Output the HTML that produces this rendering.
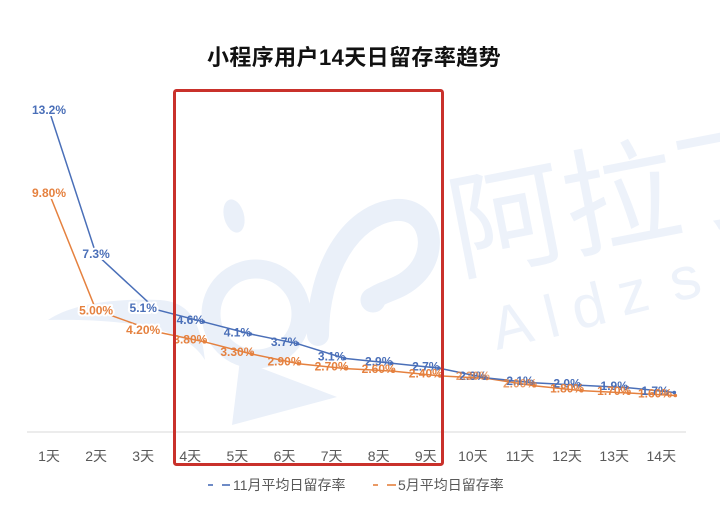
<!DOCTYPE html>
<html><head><meta charset="utf-8"><style>
html,body{margin:0;padding:0;background:#fff;}
svg{display:block;}
.wm{fill:#eaf0f9;}
.lb{font-family:"Liberation Sans",sans-serif;font-size:12px;font-weight:bold;text-anchor:middle;}
.b{fill:#4a6fb8;}
.o{fill:#e5813f;}
.h{stroke:#fff;stroke-width:4;paint-order:stroke;stroke-linejoin:round;}
.tk{font-family:"Liberation Sans","Noto Sans CJK SC",sans-serif;font-size:14px;fill:#595959;text-anchor:middle;}
</style></head><body>
<svg width="720" height="510" viewBox="0 0 720 510" xmlns="http://www.w3.org/2000/svg">
<rect width="720" height="510" fill="#fff"/>
<!-- watermark -->
<path class="wm" d="M48,320 C70,305 110,298 160,300 C185,302 200,315 205,360 C190,335 150,318 48,320 Z"/>
<circle cx="256" cy="314" r="45" fill="none" stroke="#eaf0f9" stroke-width="19"/>
<path class="wm" d="M240,360 L337,397 L232,425 Z"/>
<ellipse class="wm" cx="234" cy="216" rx="10" ry="17" transform="rotate(-15 234 216)"/>
<path d="M318,335 C318,270 350,215 395,210 C430,207 440,250 415,275 C400,290 385,290 374,298" fill="none" stroke="#eaf0f9" stroke-width="22" stroke-linecap="round"/>
<circle cx="373" cy="300" r="9" fill="none" stroke="#eaf0f9" stroke-width="7"/>
<text x="458" y="272" font-family="'Noto Sans CJK SC',sans-serif" font-size="116" fill="#edf2fa" transform="rotate(-11 458 272)">阿拉丁</text>
<g font-family="'Liberation Sans',sans-serif" font-size="60" fill="#edf2fa">
<text x="497" y="350" transform="rotate(-14 497 350)">A</text>
<text x="550" y="338" transform="rotate(-14 550 338)">l</text>
<text x="577" y="330" transform="rotate(-14 577 330)">d</text>
<text x="623" y="316" transform="rotate(-14 623 316)">z</text>
<text x="675" y="302" transform="rotate(-14 675 302)">s</text>
</g>
<!-- title -->
<text x="354" y="65" text-anchor="middle" font-family="'Liberation Sans','Noto Sans CJK SC',sans-serif" font-weight="bold" font-size="22" letter-spacing="0.4" fill="#111">小程序用户14天日留存率趋势</text>
<!-- axis -->
<line x1="27" y1="432" x2="686" y2="432" stroke="#d9d9d9" stroke-width="1"/>
<!-- series lines -->
<polyline fill="none" stroke="#e5813f" stroke-width="1.5" points="49,193 96,310 157.2,332 204.3,341.8 251.4,354 298.5,363.7 345.6,368.6 392.7,371.1 439.8,375.9 486.9,378.4 534,385.7 581.1,390.6 628.2,393 675.3,395.5"/>
<polyline fill="none" stroke="#4a6fb8" stroke-width="1.5" points="49,110 96,254 156.2,309.6 203.3,321.8 250.4,334 297.5,343.7 344.6,358.4 391.7,363.2 438.8,368.1 485.9,377.9 533,382.8 580.1,385.2 627.2,387.6 674.3,392.5"/>
<g fill="#e5813f">
<circle cx="157.2" cy="332" r="1.8"/><circle cx="204.3" cy="341.8" r="1.8"/><circle cx="251.4" cy="354" r="1.8"/><circle cx="298.5" cy="363.7" r="1.8"/><circle cx="345.6" cy="368.6" r="1.8"/><circle cx="392.7" cy="371.1" r="1.8"/><circle cx="439.8" cy="375.9" r="1.8"/><circle cx="486.9" cy="378.4" r="1.8"/><circle cx="534" cy="385.7" r="1.8"/><circle cx="581.1" cy="390.6" r="1.8"/><circle cx="628.2" cy="393" r="1.8"/><circle cx="675.3" cy="395.5" r="1.8"/>
</g>
<g fill="#4a6fb8">
<circle cx="156.2" cy="309.6" r="1.8"/><circle cx="203.3" cy="321.8" r="1.8"/><circle cx="250.4" cy="334" r="1.8"/><circle cx="297.5" cy="343.7" r="1.8"/><circle cx="344.6" cy="358.4" r="1.8"/><circle cx="391.7" cy="363.2" r="1.8"/><circle cx="438.8" cy="368.1" r="1.8"/><circle cx="485.9" cy="377.9" r="1.8"/><circle cx="533" cy="382.8" r="1.8"/><circle cx="580.1" cy="385.2" r="1.8"/><circle cx="627.2" cy="387.6" r="1.8"/><circle cx="674.3" cy="392.5" r="1.8"/>
</g>
<!-- blue labels -->
<g class="lb b">
<text class="h" x="49" y="114.2">13.2%</text>
<text class="h" x="96.1" y="258.2">7.3%</text>
<text class="h" x="143.2" y="311.9">5.1%</text>
<text x="190.3" y="324.1">4.6%</text>
<text x="237.4" y="336.3">4.1%</text>
<text x="284.5" y="346">3.7%</text>
<text x="331.6" y="360.7">3.1%</text>
<text x="378.7" y="365.5">2.9%</text>
<text x="425.8" y="370.4">2.7%</text>
<text x="472.9" y="380.2">2.3%</text>
<text x="520" y="385.1">2.1%</text>
<text x="567.1" y="387.5">2.0%</text>
<text x="614.2" y="389.9">1.9%</text>
<text x="655" y="394.8">1.7%</text>
</g>
<!-- orange labels -->
<g class="lb o">
<text class="h" x="49" y="197.2">9.80%</text>
<text class="h" x="96.1" y="314.3">5.00%</text>
<text class="h" x="143.2" y="333.8">4.20%</text>
<text x="190.3" y="343.6">3.80%</text>
<text x="237.4" y="355.8">3.30%</text>
<text x="284.5" y="365.5">2.90%</text>
<text x="331.6" y="370.4">2.70%</text>
<text x="378.7" y="372.9">2.60%</text>
<text x="425.8" y="377.7">2.40%</text>
<text x="472.9" y="380.2" opacity="0.75">2.30%</text>
<text x="520" y="387.5" opacity="0.8">2.00%</text>
<text x="567.1" y="392.4">1.80%</text>
<text x="614.2" y="394.8">1.70%</text>
<text x="655" y="397.3">1.60%</text>
</g>
<!-- tick labels -->
<g class="tk">
<text x="49" y="461">1天</text>
<text x="96.1" y="461">2天</text>
<text x="143.2" y="461">3天</text>
<text x="190.3" y="461">4天</text>
<text x="237.4" y="461">5天</text>
<text x="284.5" y="461">6天</text>
<text x="331.6" y="461">7天</text>
<text x="378.7" y="461">8天</text>
<text x="425.8" y="461">9天</text>
<text x="472.9" y="461">10天</text>
<text x="520" y="461">11天</text>
<text x="567.1" y="461">12天</text>
<text x="614.2" y="461">13天</text>
<text x="661.3" y="461">14天</text>
</g>
<!-- red box -->
<rect x="174.5" y="90.5" width="268" height="374" rx="2" fill="none" stroke="#c9312b" stroke-width="3"/>
<!-- legend -->
<g stroke-width="2" opacity="0.8">
<line x1="208" y1="485" x2="213" y2="485" stroke="#4a6fb8"/>
<line x1="222" y1="485" x2="230" y2="485" stroke="#4a6fb8"/>
<line x1="373" y1="485" x2="378" y2="485" stroke="#e5813f"/>
<line x1="387" y1="485" x2="396" y2="485" stroke="#e5813f"/>
</g>
<text x="233" y="490" font-family="'Liberation Sans','Noto Sans CJK SC',sans-serif" font-size="14" fill="#595959">11月平均日留存率</text>
<text x="398" y="490" font-family="'Liberation Sans','Noto Sans CJK SC',sans-serif" font-size="14" fill="#595959">5月平均日留存率</text>
</svg>
</body></html>
